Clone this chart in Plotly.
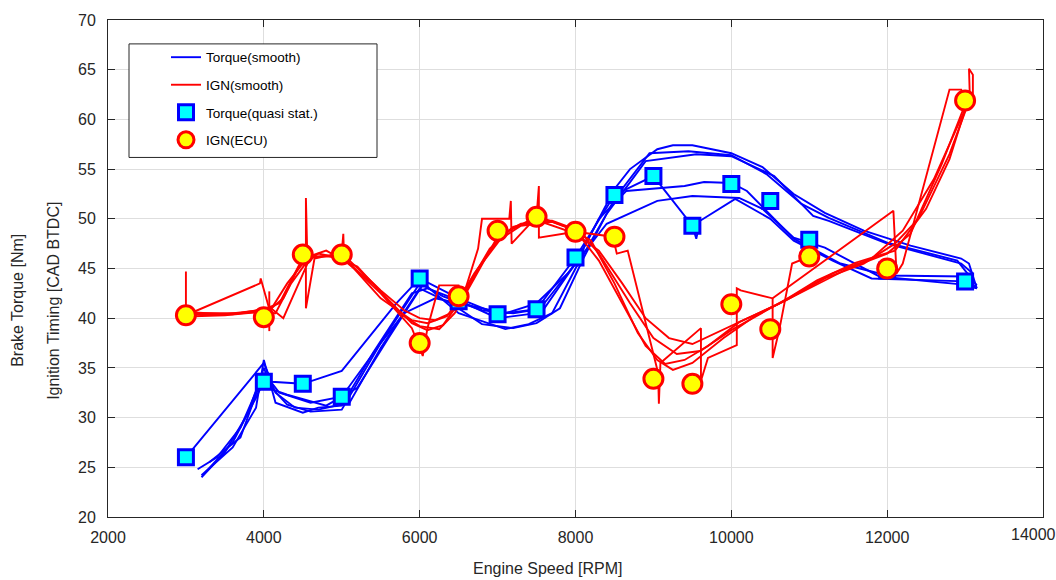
import plotly.graph_objects as go

# ---------------- data ----------------
# Torque (smooth) sweeps
t1_rpm = [3200, 3500, 3800, 4000, 4100, 4300, 4600, 5000, 5500, 6000, 6300, 6800, 7200, 7600, 8000, 8300, 8500, 8700, 9050, 9250, 9500, 10000, 10400, 10800, 11200, 11700, 12300, 12950, 13050, 13150]
t1_nm = [24.0, 26.5, 30.5, 35.0, 33.0, 31.3, 30.6, 30.8, 37.5, 43.5, 42.2, 40.8, 40.5, 41.0, 45.5, 50.0, 53.0, 55.0, 57.0, 57.4, 57.4, 56.6, 55.2, 52.5, 50.6, 48.8, 47.3, 46.0, 45.5, 43.0]

t2_rpm = [3250, 3600, 3900, 4050, 4150, 4400, 4700, 5100, 5500, 6000, 6400, 6800, 7200, 7500, 7800, 8100, 8500, 8950, 9450, 10000, 10450, 10900, 11250, 12000, 12900, 13150]
t2_nm = [24.5, 27.5, 32.0, 34.5, 32.5, 31.0, 30.8, 31.5, 37.0, 43.0, 41.5, 39.4, 39.0, 39.5, 41.0, 46.0, 52.0, 56.6, 56.8, 56.4, 54.5, 51.5, 50.1, 47.6, 45.8, 43.3]

t3_rpm = [3150, 3400, 3700, 3950, 4050, 4300, 4800, 5200, 5600, 6050, 6500, 7100, 7400, 7700, 8000, 8400, 8900, 9550, 10000, 10550, 11050, 11250, 12000, 12950, 13100]
t3_nm = [24.8, 26.0, 29.0, 33.5, 33.0, 32.3, 31.2, 33.0, 38.0, 43.5, 40.5, 38.9, 39.4, 40.5, 45.0, 50.5, 55.8, 56.5, 56.3, 54.3, 50.3, 49.8, 47.5, 45.5, 44.5]

t4_rpm = [3000, 4000, 4100, 4500, 5000, 5700, 6000, 6500, 7000, 7500, 8000, 8500, 9000, 9500, 9550, 9600, 10050, 10500, 10800, 11300, 11800, 12300, 13000, 13150]
t4_nm = [26.0, 35.5, 33.6, 33.4, 34.7, 41.5, 44.0, 42.0, 40.4, 40.9, 46.1, 52.4, 54.3, 49.3, 48.0, 49.8, 52.0, 50.0, 47.8, 45.8, 44.0, 43.9, 43.7, 43.0]

t5_rpm = [3300, 3700, 4000, 4200, 4600, 5000, 5500, 5800, 6200, 6700, 7100, 7500, 7900, 8400, 9050, 9500, 10100, 10400, 10800, 11200, 11900, 12950, 13150]
t5_nm = [25.5, 28.0, 34.5, 32.5, 31.5, 32.1, 37.5, 40.5, 42.0, 41.2, 40.5, 41.5, 44.5, 49.5, 51.8, 52.3, 52.1, 51.0, 48.1, 47.1, 44.2, 43.4, 43.0]

t6_rpm = [3200, 3600, 3900, 4000, 4150, 4500, 4700, 5000, 5400, 5900, 6100, 6500, 7000, 7500, 8000, 8300, 8650, 9400, 9650, 10000, 10200, 10800, 11400, 12000, 13000, 13150]
t6_nm = [24.2, 27.0, 31.0, 35.8, 31.5, 30.5, 31.0, 31.2, 36.5, 42.5, 43.0, 41.8, 40.0, 40.5, 45.5, 50.0, 52.8, 53.3, 53.7, 53.6, 52.8, 48.0, 45.5, 44.3, 44.2, 43.0]

# IGN (smooth) sweeps
i1_rpm = [3050, 3500, 3950, 4100, 4300, 4550, 4800, 5100, 5500, 5800, 6000, 6200, 6400, 6700, 7000, 7300, 7600, 8000, 8300, 8600, 8900, 9200, 9500, 9800, 10200, 10700, 11200, 11700, 12100, 12400, 12800, 13050]
i1_deg = [40.6, 40.4, 40.8, 41.0, 43.5, 46.0, 46.3, 45.8, 42.8, 40.8, 40.0, 39.8, 40.5, 44.5, 47.8, 49.3, 49.6, 48.5, 46.8, 43.5, 40.0, 38.0, 37.4, 38.5, 40.0, 41.8, 44.0, 45.5, 47.5, 50.0, 56.5, 61.8]

i2_rpm = [3100, 3500, 3900, 4150, 4350, 4600, 4900, 5200, 5600, 5900, 6100, 6300, 6500, 6800, 7100, 7400, 7700, 8050, 8300, 8700, 9000, 9300, 9600, 10000, 10500, 11000, 11500, 12000, 12300, 12700, 13000]
i2_deg = [40.2, 40.3, 40.6, 40.5, 43.5, 46.2, 46.2, 45.2, 41.8, 39.5, 38.8, 39.3, 41.5, 45.5, 48.6, 49.8, 49.8, 48.8, 46.5, 41.5, 38.0, 36.4, 36.7, 38.8, 41.0, 43.0, 45.0, 46.5, 48.5, 55.5, 61.5]

i3_rpm = [3000, 3600, 4000, 4200, 4450, 4700, 5000, 5400, 5800, 6000, 6250, 6450, 6700, 7000, 7300, 7700, 8000, 8300, 8600, 8900, 9150, 9400, 9700, 10100, 10600, 11100, 11600, 12100, 12500, 12800, 13050]
i3_deg = [40.4, 40.4, 40.9, 41.5, 45.3, 46.5, 46.0, 43.5, 40.2, 39.2, 38.9, 40.5, 44.0, 48.2, 49.5, 49.7, 48.8, 45.8, 41.5, 37.2, 35.4, 35.8, 37.2, 39.6, 41.4, 43.8, 45.6, 46.8, 51.0, 56.0, 62.2]

i4_rpm = [3100, 3700, 4050, 4250, 4500, 4800, 5100, 5500, 5900, 6100, 6350, 6600, 6900, 7200, 7600, 7950, 8200, 8500, 8800, 9050, 9250, 9500, 9900, 10300, 10800, 11300, 11800, 12200, 12600, 13000]
i4_deg = [40.5, 40.5, 40.7, 42.0, 46.0, 46.8, 45.5, 42.0, 39.8, 39.5, 40.2, 43.0, 47.0, 49.2, 50.0, 49.0, 47.8, 43.5, 38.5, 35.8, 34.8, 35.5, 38.0, 40.2, 42.3, 44.5, 46.0, 48.8, 54.0, 61.0]

i5_rpm = [3000, 3000, 3950, 3960, 4060, 4250, 4560, 4540, 4540, 4650, 5000, 5020, 5030, 5500, 5900, 6040, 6100, 6250, 6500, 6550, 6750, 6800, 7150, 7170, 7180, 7500, 7530, 7530, 8000, 8480, 8530, 8670, 9060, 9070, 9090, 9610, 9610, 9700, 10070, 10070, 10120, 10530, 12080, 12120, 12200, 12800, 12950, 13000, 13060, 13050, 13100, 13100]
i5_deg = [44.7, 40.3, 43.5, 44.0, 41.2, 40.0, 45.5, 52.1, 41.0, 46.0, 46.6, 48.5, 46.0, 42.5, 39.0, 36.2, 39.0, 43.3, 43.3, 42.0, 47.0, 50.0, 50.0, 51.8, 47.5, 50.2, 53.3, 48.1, 48.7, 48.2, 46.5, 46.8, 34.5, 31.4, 35.5, 39.0, 33.7, 36.0, 37.3, 43.0, 42.8, 42.0, 50.8, 44.5, 45.5, 63.0, 63.0, 62.0, 62.5, 65.1, 64.5, 62.0]

i6_rpm = [4070, 4070, None, 10530, 10530, 10620, 10780, 11000]
i6_deg = [42.7, 38.7, None, 42.0, 36.0, 39.0, 45.5, 46.2]

# Quasi-static torque and ECU ignition points
qs_rpm = [3000, 4000, 4500, 5000, 6000, 6500, 7000, 7500, 8000, 8500, 9000, 9500, 10000, 10500, 11000, 12000, 13000]
qs_nm = [26.0, 33.6, 33.4, 32.1, 44.0, 41.7, 40.4, 40.9, 46.1, 52.4, 54.3, 49.3, 53.5, 51.8, 47.9, 44.8, 43.7]

ecu_rpm = [3000, 4000, 4500, 5000, 6000, 6500, 7000, 7500, 8000, 8500, 9000, 9500, 10000, 10500, 11000, 12000, 13000]
ecu_deg = [40.3, 40.1, 46.4, 46.4, 37.5, 42.2, 48.8, 50.2, 48.7, 48.2, 33.9, 33.4, 41.4, 38.9, 46.2, 45.0, 61.9]

# x tick values (last one is labelled separately because it sits at the figure edge)
x_ticks = [2000, 4000, 6000, 8000, 10000, 12000, 14000]

# ---------------- figure ----------------
FONT = "Arial, Liberation Sans, Helvetica, sans-serif"
BLUE = "#0000ff"
RED = "#ff0000"

fig = go.Figure()

torque_runs = [(t1_rpm, t1_nm), (t2_rpm, t2_nm), (t3_rpm, t3_nm), (t4_rpm, t4_nm), (t5_rpm, t5_nm), (t6_rpm, t6_nm)]
ign_runs = [(i1_rpm, i1_deg), (i2_rpm, i2_deg), (i3_rpm, i3_deg), (i4_rpm, i4_deg), (i5_rpm, i5_deg), (i6_rpm, i6_deg)]

for k, (xs, ys) in enumerate(torque_runs):
    fig.add_trace(go.Scatter(x=xs, y=ys, mode="lines", line=dict(color=BLUE, width=1.9),
                             name="Torque(smooth)", showlegend=(k == 0), legendgroup="g1",
                             legendrank=1, connectgaps=False))
for k, (xs, ys) in enumerate(ign_runs):
    fig.add_trace(go.Scatter(x=xs, y=ys, mode="lines", line=dict(color=RED, width=1.9),
                             name="IGN(smooth)", showlegend=(k == 0), legendgroup="g2",
                             legendrank=2, connectgaps=False))

fig.add_trace(go.Scatter(x=qs_rpm, y=qs_nm, mode="markers", name="Torque(quasi stat.)",
                         marker=dict(symbol="square", size=15, color="#00ffff",
                                     line=dict(color=BLUE, width=3)),
                         legendgroup="g3", legendrank=3))
fig.add_trace(go.Scatter(x=ecu_rpm, y=ecu_deg, mode="markers", name="IGN(ECU)",
                         marker=dict(symbol="circle", size=19, color="#ffff00",
                                     line=dict(color=RED, width=3)),
                         legendgroup="g4", legendrank=4))

axis_common = dict(showline=True, linecolor="#262626", linewidth=1, mirror="allticks",
                   ticks="inside", ticklen=7, tickcolor="#262626", tickwidth=1,
                   showgrid=True, gridcolor="#dedede", gridwidth=1, zeroline=False,
                   tickfont=dict(family=FONT, size=16, color="#262626"))

fig.update_xaxes(range=[2000, 14000], tickmode="array", tickvals=x_ticks,
                 ticktext=[str(v) for v in x_ticks[:-1]] + [""],
                 ticklabelstandoff=6, **axis_common)
fig.update_yaxes(range=[20, 70], dtick=5, tick0=20, tickformat="d",
                 ticklabelstandoff=8, **axis_common)

L, R, T, B = 108, 13, 18, 63
PW = 1056 - L - R
PH = 580 - T - B

def px(xp):
    return (xp - L) / PW

def py(yp):
    return (580 - B - yp) / PH

# label of the last x tick, nudged left so it stays inside the figure
fig.add_annotation(text=str(x_ticks[-1]), xref="x", yref="paper", x=x_ticks[-1], y=py(535),
                   showarrow=False, xanchor="center", yanchor="middle", xshift=-10,
                   font=dict(family=FONT, size=16, color="#262626"))

# legend box
fig.add_shape(type="rect", xref="paper", yref="paper",
              x0=px(129), x1=px(377), y0=py(156), y1=py(42),
              line=dict(color="#262626", width=1), fillcolor="white", layer="above")

fig.add_annotation(text="Engine Speed [RPM]", xref="paper", yref="paper",
                   x=px(547), y=py(569), showarrow=False, xanchor="center", yanchor="middle",
                   font=dict(family=FONT, size=16, color="#262626"))
fig.add_annotation(text="Brake Torque [Nm]", xref="paper", yref="paper",
                   x=px(18), y=py(300), showarrow=False, textangle=-90,
                   xanchor="center", yanchor="middle",
                   font=dict(family=FONT, size=16, color="#262626"))
fig.add_annotation(text="Ignition Timing [CAD BTDC]", xref="paper", yref="paper",
                   x=px(54), y=py(300), showarrow=False, textangle=-90,
                   xanchor="center", yanchor="middle",
                   font=dict(family=FONT, size=16, color="#262626"))

fig.update_layout(
    width=1056, height=580,
    margin=dict(l=L, r=R, t=T, b=B),
    paper_bgcolor="white", plot_bgcolor="white",
    font=dict(family=FONT, size=14, color="#262626"),
    legend=dict(x=px(166), y=py(40), xanchor="left", yanchor="top",
                bgcolor="rgba(0,0,0,0)", borderwidth=0,
                font=dict(family=FONT, size=13.5, color="#000000"),
                traceorder="grouped", tracegroupgap=7, itemsizing="trace"),
)

fig.write_html("out.html")
